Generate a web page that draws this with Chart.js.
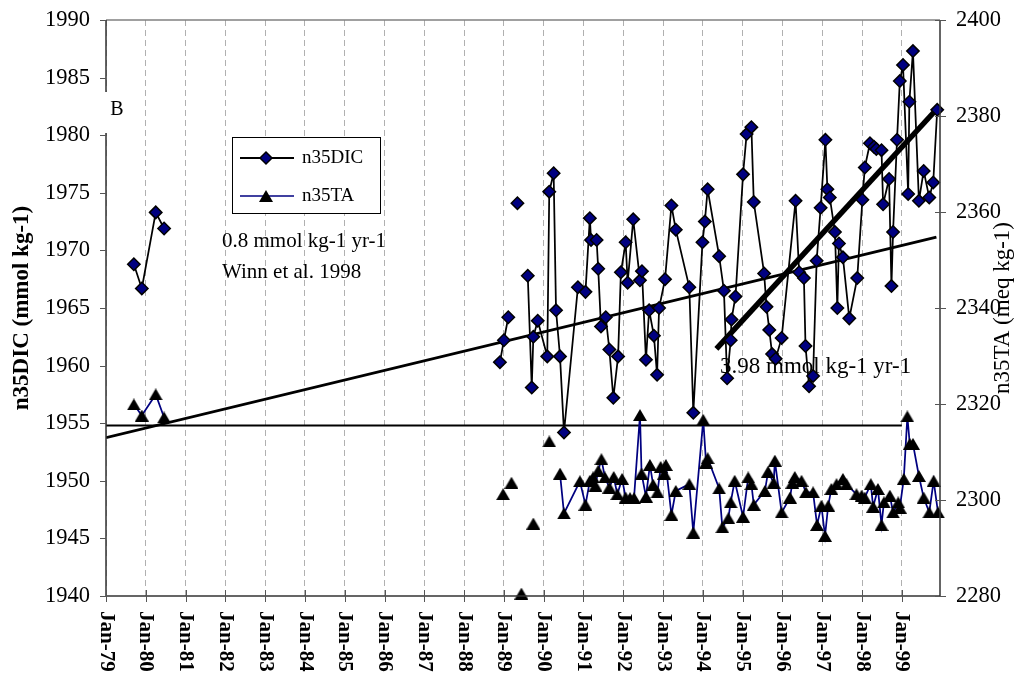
<!DOCTYPE html>
<html>
<head>
<meta charset="utf-8">
<script src="https://cdn.jsdelivr.net/npm/chart.js@4.4.1/dist/chart.umd.min.js"></script>
<style>
  html, body { margin: 0; padding: 0; background: #fff; }
  canvas { display: block; }
</style>
</head>
<body>
<canvas id="chart" width="1024" height="677"></canvas>
<script>
// ---- n35DIC (mmol kg-1): sample dates as decimal years ----
const dicYears = [
  1979.70, 1979.90, 1980.25, 1980.46,
  1988.90, 1989.00, 1989.11,
  1989.34,
  1989.60, 1989.70, 1989.74, 1989.85,
  1990.09, 1990.14, 1990.25, 1990.31, 1990.41, 1990.51, 1990.86,
  1991.05, 1991.16, 1991.19, 1991.33, 1991.37, 1991.44, 1991.56, 1991.65, 1991.75, 1991.87, 1991.94,
  1992.06, 1992.11, 1992.25, 1992.42, 1992.47, 1992.57, 1992.65, 1992.77, 1992.85, 1992.90,
  1993.05, 1993.21, 1993.32, 1993.66, 1993.76, 1993.99,
  1994.05, 1994.12, 1994.41, 1994.53, 1994.61, 1994.70, 1994.72, 1994.82,
  1995.01, 1995.10, 1995.22, 1995.28, 1995.54, 1995.60, 1995.67, 1995.74, 1995.83, 1995.98,
  1996.33, 1996.42, 1996.54, 1996.58, 1996.67, 1996.77, 1996.86, 1996.96,
  1997.08, 1997.13, 1997.19, 1997.32, 1997.38, 1997.42, 1997.52, 1997.68, 1997.88,
  1998.01, 1998.07, 1998.20, 1998.30, 1998.36, 1998.49, 1998.53, 1998.68, 1998.74, 1998.78, 1998.88, 1998.95,
  1999.03, 1999.16, 1999.19, 1999.28, 1999.43, 1999.55, 1999.69, 1999.79, 1999.89
];
const dicValues = [
  1968.8, 1966.7, 1973.3, 1971.9,
  1960.3, 1962.2, 1964.2,
  1974.1,
  1967.8, 1958.1, 1962.5, 1963.9,
  1960.8, 1975.1, 1976.7, 1964.8, 1960.8, 1954.2, 1966.8,
  1966.4, 1972.8, 1970.9, 1970.9, 1968.4, 1963.4, 1964.2, 1961.4, 1957.2, 1960.8, 1968.1,
  1970.7, 1967.2, 1972.7, 1967.4, 1968.2, 1960.5, 1964.8, 1962.6, 1959.2, 1965.0,
  1967.5, 1973.9, 1971.8, 1966.8, 1955.9, 1970.7,
  1972.5, 1975.3, 1969.5, 1966.5, 1958.9, 1962.2, 1964.0, 1966.0,
  1976.6, 1980.1, 1980.7, 1974.2, 1968.0, 1965.1, 1963.1, 1961.0, 1960.6, 1962.4,
  1974.3, 1968.1, 1967.6, 1961.7, 1958.2, 1959.1, 1969.1, 1973.7,
  1979.6, 1975.3, 1974.6, 1971.6, 1965.0, 1970.6, 1969.4, 1964.1, 1967.6,
  1974.4, 1977.2, 1979.3, 1979.0, 1978.8, 1978.7, 1974.0, 1976.2, 1966.9, 1971.6, 1979.6, 1984.7,
  1986.1, 1974.9, 1982.9, 1987.3, 1974.3, 1976.9, 1974.6, 1975.9, 1982.2
];
// indices where an unconnected run of DIC samples begins
const dicRunStarts = [0, 4, 7, 8];

// ---- n35TA (meq kg-1) ----
const taYears = [
  1979.70, 1979.90, 1980.25, 1980.46,
  1988.98, 1989.19, 1989.44, 1989.74, 1990.14,
  1990.41, 1990.51, 1990.91,
  1991.05, 1991.16, 1991.24, 1991.30, 1991.37, 1991.45, 1991.54, 1991.65, 1991.76, 1991.85, 1991.97,
  1992.06, 1992.17, 1992.27, 1992.42, 1992.46, 1992.57, 1992.67, 1992.75, 1992.86, 1992.94,
  1993.03, 1993.07, 1993.21, 1993.32, 1993.66, 1993.76,
  1994.01, 1994.08, 1994.12, 1994.41, 1994.49, 1994.64, 1994.70, 1994.80,
  1995.01, 1995.14, 1995.22, 1995.28, 1995.56, 1995.64, 1995.78, 1995.81, 1995.98,
  1996.19, 1996.25, 1996.31, 1996.48, 1996.59, 1996.77, 1996.87, 1996.98,
  1997.07, 1997.15, 1997.23, 1997.36, 1997.52, 1997.61, 1997.86, 1997.99,
  1998.07, 1998.22, 1998.28, 1998.40, 1998.49, 1998.55, 1998.70, 1998.78, 1998.91, 1998.95,
  1999.05, 1999.14, 1999.20, 1999.28, 1999.43, 1999.55, 1999.69, 1999.80, 1999.91
];
const taValues = [
  2319.9, 2317.6, 2322.0, 2317.2,
  2301.2, 2303.6, 2280.5, 2295.1, 2312.2,
  2305.5, 2297.2, 2303.9,
  2299.0, 2304.0, 2304.7, 2303.0, 2306.1, 2308.5, 2304.7, 2302.6, 2304.8, 2301.2, 2304.4,
  2300.5, 2300.4, 2300.4, 2317.7, 2305.5, 2300.7, 2307.3, 2303.2, 2301.6, 2306.9,
  2305.5, 2307.3, 2296.9, 2301.9, 2303.3, 2293.2,
  2316.7, 2307.8, 2308.7, 2302.4, 2294.3, 2296.2, 2299.5, 2304.0,
  2296.5, 2304.7, 2303.3, 2299.0, 2301.9, 2305.9, 2303.6, 2308.2, 2297.4,
  2300.5, 2303.6, 2304.8, 2304.0, 2301.6, 2301.6, 2294.8, 2298.8,
  2292.5, 2298.8, 2302.3, 2303.3, 2304.4, 2303.3, 2301.2, 2300.9,
  2300.5, 2303.3, 2298.6, 2302.3, 2294.8, 2299.5, 2300.9, 2297.4, 2299.5, 2298.4,
  2304.4, 2317.4, 2311.7, 2311.7, 2305.0, 2300.5, 2297.4, 2304.0, 2297.4
];
const taRunStarts = [0, 4, 5, 6, 7, 8, 9];

// ---- fitted trends and reference level (DIC units) ----
const winnTrendYears = [1979.0, 1999.87];
const winnTrendValues = [1953.75, 1971.15];
const recentTrendYears = [1994.34, 1999.87];
const recentTrendValues = [1961.45, 1982.23];
const referenceYears = [1979.0, 1999.0];
const referenceValues = [1954.8, 1954.8];

// ---- axes ----
const xTickYears = [1979, 1980, 1981, 1982, 1983, 1984, 1985, 1986, 1987, 1988, 1989,
                    1990, 1991, 1992, 1993, 1994, 1995, 1996, 1997, 1998, 1999];
const xTickLabels = ['Jan-79', 'Jan-80', 'Jan-81', 'Jan-82', 'Jan-83', 'Jan-84', 'Jan-85',
                     'Jan-86', 'Jan-87', 'Jan-88', 'Jan-89', 'Jan-90', 'Jan-91', 'Jan-92',
                     'Jan-93', 'Jan-94', 'Jan-95', 'Jan-96', 'Jan-97', 'Jan-98', 'Jan-99'];
const dicTicks = [1940, 1945, 1950, 1955, 1960, 1965, 1970, 1975, 1980, 1985, 1990];
const taTicks = [2280, 2300, 2320, 2340, 2360, 2380, 2400];

const SERIF = '"Liberation Serif", "Times New Roman", serif';
const NAVY = '#000080';

// join year/value arrays into {x, y} points, with a null gap before each new run
function buildRuns(years, values, starts) {
  const pts = [];
  years.forEach((yr, i) => {
    if (i > 0 && starts.includes(i)) pts.push({ x: yr, y: null });
    pts.push({ x: yr, y: values[i] });
  });
  return pts;
}
function pairUp(years, values) {
  return years.map((yr, i) => ({ x: yr, y: values[i] }));
}

// solid black triangle marker, centred on its bounding box
function triangleMarker(w, h) {
  const c = document.createElement('canvas');
  c.width = w; c.height = h;
  const g = c.getContext('2d');
  g.fillStyle = '#000';
  g.beginPath();
  g.moveTo(w / 2, 0);
  g.lineTo(w, h);
  g.lineTo(0, h);
  g.closePath();
  g.fill();
  return c;
}
const triangle = triangleMarker(14, 12);

function drawDiamond(ctx, x, y, r) {
  ctx.beginPath();
  ctx.moveTo(x, y - r);
  ctx.lineTo(x + r, y);
  ctx.lineTo(x, y + r);
  ctx.lineTo(x - r, y);
  ctx.closePath();
  ctx.fillStyle = NAVY;
  ctx.fill();
  ctx.lineWidth = 1.5;
  ctx.strokeStyle = '#000';
  ctx.stroke();
}

const decorations = {
  id: 'decorations',
  beforeDatasetsDraw(chart) {
    const ctx = chart.ctx;
    ctx.save();
    ctx.fillStyle = '#000';
    ctx.textAlign = 'left';
    ctx.textBaseline = 'middle';
    ctx.font = '21px ' + SERIF;
    ctx.fillText('0.8 mmol kg-1 yr-1', 222, 241);
    ctx.fillText('Winn et al. 1998', 222, 272);
    ctx.font = '23px ' + SERIF;
    ctx.fillText('3.98 mmol kg-1 yr-1', 720, 367);
    ctx.restore();
  },
  afterDraw(chart) {
    const ctx = chart.ctx;
    const a = chart.chartArea;
    const xs = chart.scales.x, ys = chart.scales.y, y2 = chart.scales.y2;
    ctx.save();

    // frame
    ctx.lineWidth = 1.5;
    ctx.strokeStyle = '#808080';
    ctx.beginPath(); ctx.moveTo(a.left, a.top); ctx.lineTo(a.right, a.top); ctx.stroke();
    ctx.strokeStyle = '#333';
    ctx.beginPath();
    ctx.moveTo(a.left, a.top); ctx.lineTo(a.left, a.bottom);
    ctx.moveTo(a.left, a.bottom); ctx.lineTo(a.right, a.bottom);
    ctx.moveTo(a.right, a.top); ctx.lineTo(a.right, a.bottom);
    ctx.stroke();

    // tick marks
    ctx.lineWidth = 1;
    ctx.strokeStyle = '#555';
    ctx.beginPath();
    dicTicks.forEach(v => { const p = Math.round(ys.getPixelForValue(v)) + 0.5; ctx.moveTo(a.left - 6, p); ctx.lineTo(a.left, p); });
    taTicks.forEach(v => { const p = Math.round(y2.getPixelForValue(v)) + 0.5; ctx.moveTo(a.right - 5, p); ctx.lineTo(a.right + 6, p); });
    xTickYears.forEach(v => { const p = Math.round(xs.getPixelForValue(v)) + 0.5; ctx.moveTo(p, a.bottom - 6); ctx.lineTo(p, a.bottom + 6); });
    ctx.stroke();

    // rotated month labels, reading downward
    ctx.fillStyle = '#000';
    ctx.font = 'bold 21px ' + SERIF;
    ctx.textAlign = 'left';
    ctx.textBaseline = 'middle';
    xTickYears.forEach((v, i) => {
      ctx.save();
      ctx.translate(xs.getPixelForValue(v), a.bottom + 15);
      ctx.rotate(Math.PI / 2);
      ctx.fillText(xTickLabels[i], 0, 0);
      ctx.restore();
    });

    // axis titles
    ctx.textAlign = 'center';
    ctx.save();
    ctx.translate(22, 308);
    ctx.rotate(-Math.PI / 2);
    ctx.font = 'bold 23px ' + SERIF;
    ctx.fillText('n35DIC (mmol kg-1)', 0, 0);
    ctx.restore();
    ctx.save();
    ctx.translate(1003, 308);
    ctx.rotate(-Math.PI / 2);
    ctx.font = '23px ' + SERIF;
    ctx.fillText('n35TA (meq kg-1)', 0, 0);
    ctx.restore();

    // panel letter on a white patch
    ctx.fillStyle = '#fff';
    ctx.fillRect(100, 92, 38, 41);
    ctx.fillStyle = '#000';
    ctx.font = '20px ' + SERIF;
    ctx.textAlign = 'center';
    ctx.fillText('B', 117, 110);

    // legend
    ctx.fillStyle = '#fff';
    ctx.fillRect(232, 137, 148, 76);
    ctx.lineWidth = 1;
    ctx.strokeStyle = '#000';
    ctx.strokeRect(232.5, 137.5, 148, 76);
    ctx.lineWidth = 2;
    ctx.strokeStyle = '#000';
    ctx.beginPath(); ctx.moveTo(240, 158); ctx.lineTo(294, 158); ctx.stroke();
    drawDiamond(ctx, 266, 158, 6);
    ctx.strokeStyle = NAVY;
    ctx.beginPath(); ctx.moveTo(240, 196); ctx.lineTo(294, 196); ctx.stroke();
    ctx.drawImage(triangle, 266 - 7, 196 - 6);
    ctx.fillStyle = '#000';
    ctx.font = '19px ' + SERIF;
    ctx.textAlign = 'left';
    ctx.fillText('n35DIC', 302, 158);
    ctx.fillText('n35TA', 302, 196);

    ctx.restore();
  }
};

const plainTick = v => String(v);
// fixed axis-box sizes; value labels may overhang the plot edges
const fixWidth = w => s => { s.width = w; s.paddingTop = 0; s.paddingBottom = 0; };

new Chart(document.getElementById('chart'), {
  type: 'line',
  data: {
    datasets: [
      {
        label: 'n35DIC',
        data: buildRuns(dicYears, dicValues, dicRunStarts),
        yAxisID: 'y',
        borderColor: '#000',
        borderWidth: 1.75,
        pointStyle: 'rectRot',
        pointRadius: 6.2,
        pointBackgroundColor: NAVY,
        pointBorderColor: '#000',
        pointBorderWidth: 1.5,
        spanGaps: false,
        clip: false,
        order: 0
      },
      {
        label: 'n35TA',
        data: buildRuns(taYears, taValues, taRunStarts),
        yAxisID: 'y2',
        borderColor: NAVY,
        borderWidth: 1.75,
        pointStyle: triangle,
        pointRadius: 7,
        spanGaps: false,
        clip: false,
        order: 1
      },
      {
        label: 'Winn et al. 1998 trend',
        data: pairUp(winnTrendYears, winnTrendValues),
        yAxisID: 'y',
        borderColor: '#000',
        borderWidth: 2.8,
        pointRadius: 0,
        order: 2
      },
      {
        label: '1994-1999 trend',
        data: pairUp(recentTrendYears, recentTrendValues),
        yAxisID: 'y',
        borderColor: '#000',
        borderWidth: 5.5,
        pointRadius: 0,
        order: 2
      },
      {
        label: 'reference level',
        data: pairUp(referenceYears, referenceValues),
        yAxisID: 'y',
        borderColor: '#000',
        borderWidth: 2,
        pointRadius: 0,
        order: 2
      }
    ]
  },
  options: {
    responsive: false,
    animation: false,
    devicePixelRatio: 1,
    layout: { padding: { top: 20, left: 0, right: 0, bottom: 0 } },
    elements: { line: { tension: 0 } },
    plugins: { legend: { display: false }, tooltip: { enabled: false } },
    scales: {
      x: {
        type: 'linear',
        min: 1979,
        max: 1999.96,
        afterBuildTicks: s => { s.ticks = xTickYears.map(v => ({ value: v })); },
        ticks: { display: false },
        grid: { color: '#b0b0b0', lineWidth: 1, drawTicks: false },
        border: { display: false, dash: [6, 4] },
        afterFit: s => { s.height = 81; s.paddingLeft = 0; s.paddingRight = 0; }
      },
      y: {
        type: 'linear',
        position: 'left',
        min: 1940,
        max: 1990,
        afterBuildTicks: s => { s.ticks = dicTicks.map(v => ({ value: v })); },
        ticks: { color: '#000', font: { family: SERIF, size: 22.5 }, padding: 16, callback: plainTick },
        grid: { display: false, drawTicks: false },
        border: { display: false },
        afterFit: fixWidth(106)
      },
      y2: {
        type: 'linear',
        position: 'right',
        min: 2280,
        max: 2400,
        afterBuildTicks: s => { s.ticks = taTicks.map(v => ({ value: v })); },
        ticks: { color: '#000', font: { family: SERIF, size: 22.5 }, padding: 16, callback: plainTick },
        grid: { display: false, drawTicks: false },
        border: { display: false },
        afterFit: fixWidth(84)
      }
    }
  },
  plugins: [decorations]
});
</script>
</body>
</html>
